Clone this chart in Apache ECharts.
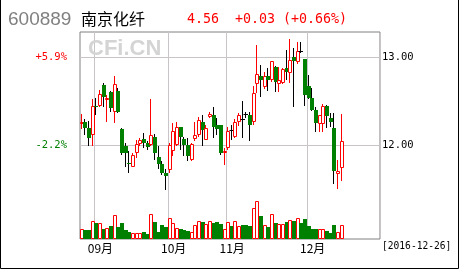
<!DOCTYPE html>
<html><head><meta charset="utf-8">
<script src="https://cdn.jsdelivr.net/npm/echarts@6/dist/echarts.min.js"></script>
<style>html,body{margin:0;padding:0;background:#fff;}#c{width:460px;height:270px;}</style>
</head><body><div id="c"></div>
<script>
const stockCode = '600889';
const stockName = '南京化纤';
const quoteText = '4.56  +0.03 (+0.66%)';
const dateText = '[2016-12-26]';
const watermark = 'CFi.CN';

const dates = [
 '08-26','08-29','08-30','08-31',
 '09-01','09-02','09-05','09-06','09-07','09-08','09-09','09-12','09-13','09-14','09-19','09-20','09-21','09-22','09-23','09-26','09-27','09-28','09-29','09-30',
 '10-10','10-11','10-12','10-13','10-14','10-17','10-18','10-19','10-20','10-21','10-24','10-25','10-26','10-27','10-28','10-31',
 '11-01','11-02','11-03','11-04','11-07','11-08','11-09','11-10','11-11','11-14','11-15','11-16','11-17','11-18','11-21','11-22','11-23','11-24','11-25','11-28','11-29','11-30',
 '12-01','12-02','12-05','12-06','12-07','12-08','12-09','12-12','12-13','12-14',
 '12-15','12-16','12-19','12-20','12-21','12-22','12-23','12-26','12-27','12-28'
];
const open  = [12.25,12.27,12.20,12.12,12.45,12.45,12.68,12.51,12.60,12.38,12.62,12.19,12.00,11.80,11.76,11.92,12.02,12.07,12.03,12.01,12.10,11.87,11.79,11.69,
 11.72,11.94,12.01,12.21,12.07,12.01,11.84,12.07,12.12,12.27,12.06,12.32,12.35,12.23,12.23,11.91,
 11.97,12.17,12.10,12.27,12.30,12.36,12.35,12.27,12.69,12.78,12.66,12.79,12.74,12.89,12.69,12.71,12.88,12.82,13.00,12.94,13.07,12.98,
 12.67,12.54,12.40,12.245,12.24,12.45,12.31,12.20,11.68,11.75];
const close = [12.27,12.20,12.09,12.45,12.43,12.58,12.55,12.54,12.42,12.69,12.38,11.92,11.91,11.79,11.89,12.02,12.06,12.03,11.98,12.12,11.92,11.79,11.69,11.65,
 12.01,12.16,12.21,12.10,12.01,11.88,12.02,12.12,12.29,12.18,12.20,12.36,12.21,12.19,11.91,11.94,
 12.16,12.17,12.26,12.35,12.30,12.36,12.23,12.59,12.81,12.74,12.79,12.74,12.95,12.72,12.74,12.86,12.83,12.97,12.95,13.07,13.07,12.57,
 12.54,12.40,12.25,12.34,12.45,12.33,12.26,11.71,11.71,12.05];
const low   = [12.19,12.12,11.99,11.99,12.35,12.43,12.43,12.26,12.38,12.25,12.37,11.89,11.76,11.69,11.76,11.86,12.00,11.97,11.95,11.99,11.84,11.73,11.67,11.50,
 11.69,11.88,11.99,11.95,11.88,11.83,11.82,12.05,12.10,11.99,12.06,12.31,12.08,12.12,11.89,11.78,
 11.95,12.06,12.09,12.22,12.08,12.31,12.05,12.23,12.59,12.55,12.64,12.62,12.72,12.61,12.61,12.69,12.74,12.71,12.44,12.92,13.05,12.45,
 12.52,12.39,12.15,12.15,12.15,12.20,12.21,11.57,11.51,11.60];
const high  = [12.36,12.30,12.28,12.52,12.54,12.63,12.71,12.57,12.62,12.78,12.65,12.20,12.03,11.94,11.92,12.06,12.09,12.14,12.05,12.53,12.13,11.99,11.83,11.73,
 12.03,12.25,12.26,12.21,12.10,12.08,12.03,12.27,12.32,12.34,12.23,12.38,12.44,12.31,12.23,11.97,
 12.21,12.23,12.30,12.37,12.50,12.38,12.38,12.67,13.13,12.91,12.83,12.88,12.96,12.90,12.89,12.88,13.08,13.20,13.10,13.17,13.17,12.98,
 12.80,12.65,12.43,12.35,12.47,12.46,12.37,12.37,11.84,12.36];
const volume = [100,90,90,180,160,157,100,107,130,237,120,160,90,67,57,57,57,70,50,247,170,70,137,120,
 207,157,107,105,87,77,70,143,183,167,153,183,160,170,150,103,
 170,127,183,130,143,137,127,310,383,233,137,117,250,163,150,150,170,193,183,210,163,203,
 127,100,100,100,100,77,60,143,70,137];

const priceTicks = [12, 13];
const priceLabels = ['12.00', '13.00'];
const pctLabels = ['-2.2%', '+5.9%'];
const monthStartIdx = [4, 24, 40, 62];
const monthLabels = ['09月', '10月', '11月', '12月'];

const RED = '#ff0000', GREEN = '#008000';
const candleData = open.map((o, i) => [i, o, close[i], low[i], high[i]]);
const volData = volume.map((v, i) => [i, v, close[i] > open[i] ? 1 : 0]);

function renderCandle(params, api) {
  const idx = api.value(0), o = api.value(1), c = api.value(2), l = api.value(3), h = api.value(4);
  const pO = api.coord([idx, o]), pC = api.coord([idx, c]);
  const pL = api.coord([idx, l]), pH = api.coord([idx, h]);
  const x0 = Math.round(pO[0] - 2);
  const xm = x0 + 1.5;
  const yTop = Math.round(Math.min(pO[1], pC[1])), yBot = Math.round(Math.max(pO[1], pC[1]));
  const yH = Math.round(pH[1]), yL = Math.round(pL[1]);
  const ch = [];
  if (c > o) {
    if (yTop > yH) ch.push({type:'line', shape:{x1:xm,y1:yH,x2:xm,y2:yTop}, style:{stroke:RED,lineWidth:1}});
    if (yL > yBot) ch.push({type:'line', shape:{x1:xm,y1:yBot,x2:xm,y2:yL}, style:{stroke:RED,lineWidth:1}});
    ch.push({type:'rect', shape:{x:x0+0.5,y:yTop+0.5,width:3,height:Math.max(yBot-yTop-1,1)}, style:{fill:'#fff',stroke:RED,lineWidth:1}});
  } else if (c < o) {
    ch.push({type:'line', shape:{x1:xm,y1:yH,x2:xm,y2:yL}, style:{stroke:'#000',lineWidth:1}});
    ch.push({type:'rect', shape:{x:x0,y:yTop,width:4,height:Math.max(yBot-yTop,1)}, style:{fill:GREEN}});
  } else {
    ch.push({type:'line', shape:{x1:xm,y1:yH,x2:xm,y2:yL}, style:{stroke:'#000',lineWidth:1}});
    ch.push({type:'line', shape:{x1:x0-0.5,y1:yTop+0.5,x2:x0+4,y2:yTop+0.5}, style:{stroke:'#000',lineWidth:1}});
  }
  return {type:'group', children: ch};
}

function renderVol(params, api) {
  const idx = api.value(0), v = api.value(1), up = api.value(2);
  const pT = api.coord([idx, v]), pB = api.coord([idx, 0]);
  const x0 = Math.round(pT[0] - 2);
  const yT = Math.round(pT[1]), yB = Math.round(pB[1]);
  if (up) {
    return {type:'rect', shape:{x:x0+0.5,y:yT+0.5,width:3,height:yB-yT-1}, style:{fill:'#fff',stroke:RED,lineWidth:1}};
  }
  return {type:'rect', shape:{x:x0,y:yT,width:4,height:yB-yT}, style:{fill:GREEN}};
}

const chart = echarts.init(document.getElementById('c'), null, {renderer:'canvas'});
const numFont = '"DejaVu Sans Mono", monospace';
chart.setOption({
  animation: false,
  backgroundColor: '#fff',
  grid: [
    {left: 80, right: 80, top: 30.45, bottom: 36, show: false},
    {left: 80, right: 80, top: 32, bottom: 31, show: true, borderColor: '#808080', borderWidth: 1, backgroundColor: 'transparent'}
  ],
  xAxis: [
    {type:'category', gridIndex:0, data: dates, boundaryGap: true, show: false},
    {type:'category', gridIndex:1, data: dates, boundaryGap: true,
     axisLine:{show:false}, axisTick:{show:false},
     splitLine:{show:true, interval:(i)=>monthStartIdx.includes(i), lineStyle:{color:'#c8c4c8', width:1}},
     axisLabel:{show:true, interval:(i)=>monthStartIdx.includes(i), margin:3,
       formatter:(v,i)=>{const k=monthStartIdx.indexOf(i); return k>=0?monthLabels[k]:'';},
       color:'#000', fontSize:12, fontFamily:'"Noto Sans CJK SC", sans-serif', padding:[0,0,0,8]}}
  ],
  yAxis: [
    {type:'value', gridIndex:0, position:'right', min:11, max:13.3, interval:1,
     axisLine:{show:false}, axisTick:{show:false},
     splitLine:{show:true, showMinLine:false, showMaxLine:false, lineStyle:{color:'#c8c4c8', width:1}},
     axisLabel:{show:true, showMinLabel:false, showMaxLabel:false, margin:2, color:'#000', fontSize:10.5, fontFamily:numFont,
       formatter:(v)=>{const k=priceTicks.indexOf(v); return k>=0?priceLabels[k]:'';}}},
    {type:'value', gridIndex:0, position:'left', min:11, max:13.3, interval:1,
     axisLine:{show:false}, axisTick:{show:false}, splitLine:{show:false},
     axisLabel:{show:true, showMinLabel:false, showMaxLabel:false, margin:13, fontSize:10.5, fontFamily:numFont,
       formatter:(v)=>{const k=priceTicks.indexOf(v); return k>=0?pctLabels[k]:'';},
       color:(v)=>{const k=priceTicks.indexOf(Number(v)); return (k>=0 && pctLabels[k][0]==='+')?RED:GREEN;}}},
    {type:'value', gridIndex:1, min:0, max:2070, show:false, splitLine:{show:false}}
  ],
  series: [
    {type:'custom', name:'K', xAxisIndex:0, yAxisIndex:0, data: candleData, renderItem: renderCandle,
     encode:{x:0, y:[1,2,3,4]}, z:5},
    {type:'custom', name:'VOL', xAxisIndex:1, yAxisIndex:2, data: volData, renderItem: renderVol,
     encode:{x:0, y:1}, z:5}
  ],
  graphic: [
    {type:'text', left:8, top:10, style:{text: stockCode, font:'19px "Liberation Sans", Arial, sans-serif', fill:'#808080'}},
    {type:'text', left:81, top:11, style:{text: stockName, font:'16px "Noto Sans CJK SC", sans-serif', fill:'#000'}},
    {type:'text', left:187, top:13, style:{text: quoteText, font:'13.3px "DejaVu Sans Mono", monospace', fill:RED}},
    {type:'text', left:88, top:38, z:1, style:{text: watermark, font:'bold 22px "Liberation Sans", Arial, sans-serif', fill:'#d4d4d4'}},
    {type:'text', left:382, top:241, style:{text: dateText, font:'9.6px "DejaVu Sans Mono", monospace', fill:'#000'}},
    {type:'polyline', shape:{points:[[0.5,0],[0.5,268.5],[458.5,268.5],[458.5,0]]}, style:{stroke:'#000', lineWidth:1, fill:null}, z:100}
  ]
});
</script></body></html>
